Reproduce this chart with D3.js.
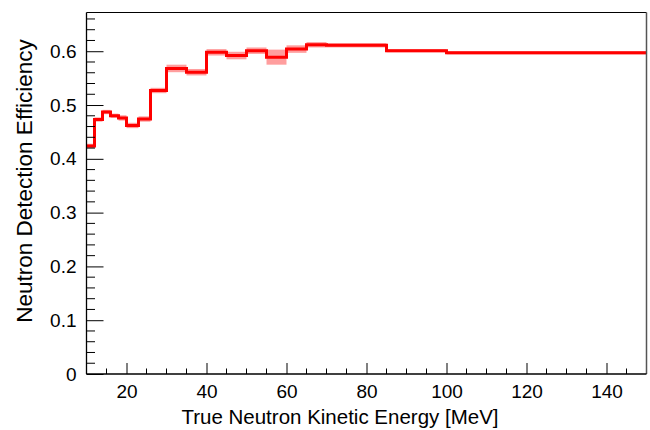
<!DOCTYPE html>
<html><head><meta charset="utf-8">
<script src="https://cdn.jsdelivr.net/npm/d3@7"></script>
<style>body{margin:0;background:#fff}svg{display:block}</style>
</head><body>
<script>
// bin edges (MeV), efficiency values, uncertainties
const binEdges = [10,12,14,16,18,20,23,26,30,35,40,45,50,55,60,65,70,85,100,150];
const efficiency = [0.424,0.473,0.487,0.480,0.476,0.462,0.474,0.527,0.568,0.561,0.598,0.592,0.601,0.589,0.604,0.612,0.611,0.601,0.597];
const errors = [0.004,0.004,0.004,0.004,0.005,0.005,0.005,0.005,0.007,0.006,0.006,0.007,0.006,0.014,0.007,0.005,0.004,0.003,0.003];
const xTicks = [20,40,60,80,100,120,140];
const yTicks = [0,0.1,0.2,0.3,0.4,0.5,0.6];
const xTitle = "True Neutron Kinetic Energy [MeV]";
const yTitle = "Neutron Detection Efficiency";

const W=650,H=430;
const L=86.5,R=646.5,T=12.5,B=374;
const svg=d3.select("body").append("svg").attr("width",W).attr("height",H);
const x=d3.scaleLinear().domain([10,150]).range([L,R]);
const y=d3.scaleLinear().domain([0,0.672]).range([B,T]);
const font="Liberation Sans, Arial, Helvetica, sans-serif";

const bins=efficiency.map((v,i)=>({x0:binEdges[i],x1:binEdges[i+1],v,e:errors[i]}));

// error band
svg.append("g").selectAll("rect").data(bins).join("rect")
  .attr("x",d=>x(d.x0)).attr("width",d=>x(d.x1)-x(d.x0))
  .attr("y",d=>y(d.v+d.e)).attr("height",d=>y(d.v-d.e)-y(d.v+d.e))
  .attr("fill","#ff0000").attr("fill-opacity",0.38);

// step line
const pts=[];
bins.forEach(d=>{
  pts.push([x(d.x0),y(d.v)]);
  pts.push([x(d.x1),y(d.v)]);
});
svg.append("path").attr("d",d3.line()(pts)).attr("fill","none")
  .attr("stroke","#ff0000").attr("stroke-width",3).attr("stroke-linejoin","miter");

// frame
svg.append("line").attr("x1",L).attr("x2",R).attr("y1",T).attr("y2",T).attr("stroke","#000").attr("stroke-width",1.2);
svg.append("line").attr("x1",R).attr("x2",R).attr("y1",T).attr("y2",B).attr("stroke","#555").attr("stroke-width",1.5);

// x axis (ticks inward)
const xAxis=d3.axisBottom(x).tickValues(xTicks).tickSize(-11).tickPadding(11).tickFormat(d3.format("d"));
const gx=svg.append("g").attr("transform",`translate(0,${B})`).call(xAxis);
gx.select(".domain").attr("d",`M${L},0H${R}`).attr("stroke","#000").attr("stroke-width",1.3);
gx.selectAll("text").attr("font-family",font).attr("font-size",19).attr("fill","#000");
const xMinor=d3.range(15,150,5).filter(v=>v%20!==0);
gx.selectAll(".minor").data(xMinor).join("line").attr("class","minor")
  .attr("x1",d=>x(d)).attr("x2",d=>x(d)).attr("y1",0).attr("y2",-5.5).attr("stroke","#000");

// y axis
const yAxis=d3.axisLeft(y).tickValues(yTicks).tickSize(-17).tickFormat(d=>d===0?"0":d3.format(".1f")(d));
const gy=svg.append("g").attr("transform",`translate(${L},0)`).call(yAxis);
gy.select(".domain").attr("d",`M0,${B}V${T}`).attr("stroke","#000").attr("stroke-width",1.3);
gy.selectAll("text").attr("font-family",font).attr("font-size",19).attr("fill","#000").attr("x",-10);
const yMinor=d3.range(1,34).map(i=>i*0.02).filter(v=>Math.abs(v*10-Math.round(v*10))>1e-6);
gy.selectAll(".minor").data(yMinor).join("line").attr("class","minor")
  .attr("x1",0).attr("x2",8.5).attr("y1",d=>y(d)).attr("y2",d=>y(d)).attr("stroke","#000");

// titles
svg.append("text").attr("x",340).attr("y",424).attr("text-anchor","middle")
  .attr("font-family",font).attr("font-size",20.5).text(xTitle);
svg.append("text").attr("transform","translate(32,181) rotate(-90)").attr("text-anchor","middle")
  .attr("font-family",font).attr("font-size",22.5).text(yTitle);
</script>
</body></html>
